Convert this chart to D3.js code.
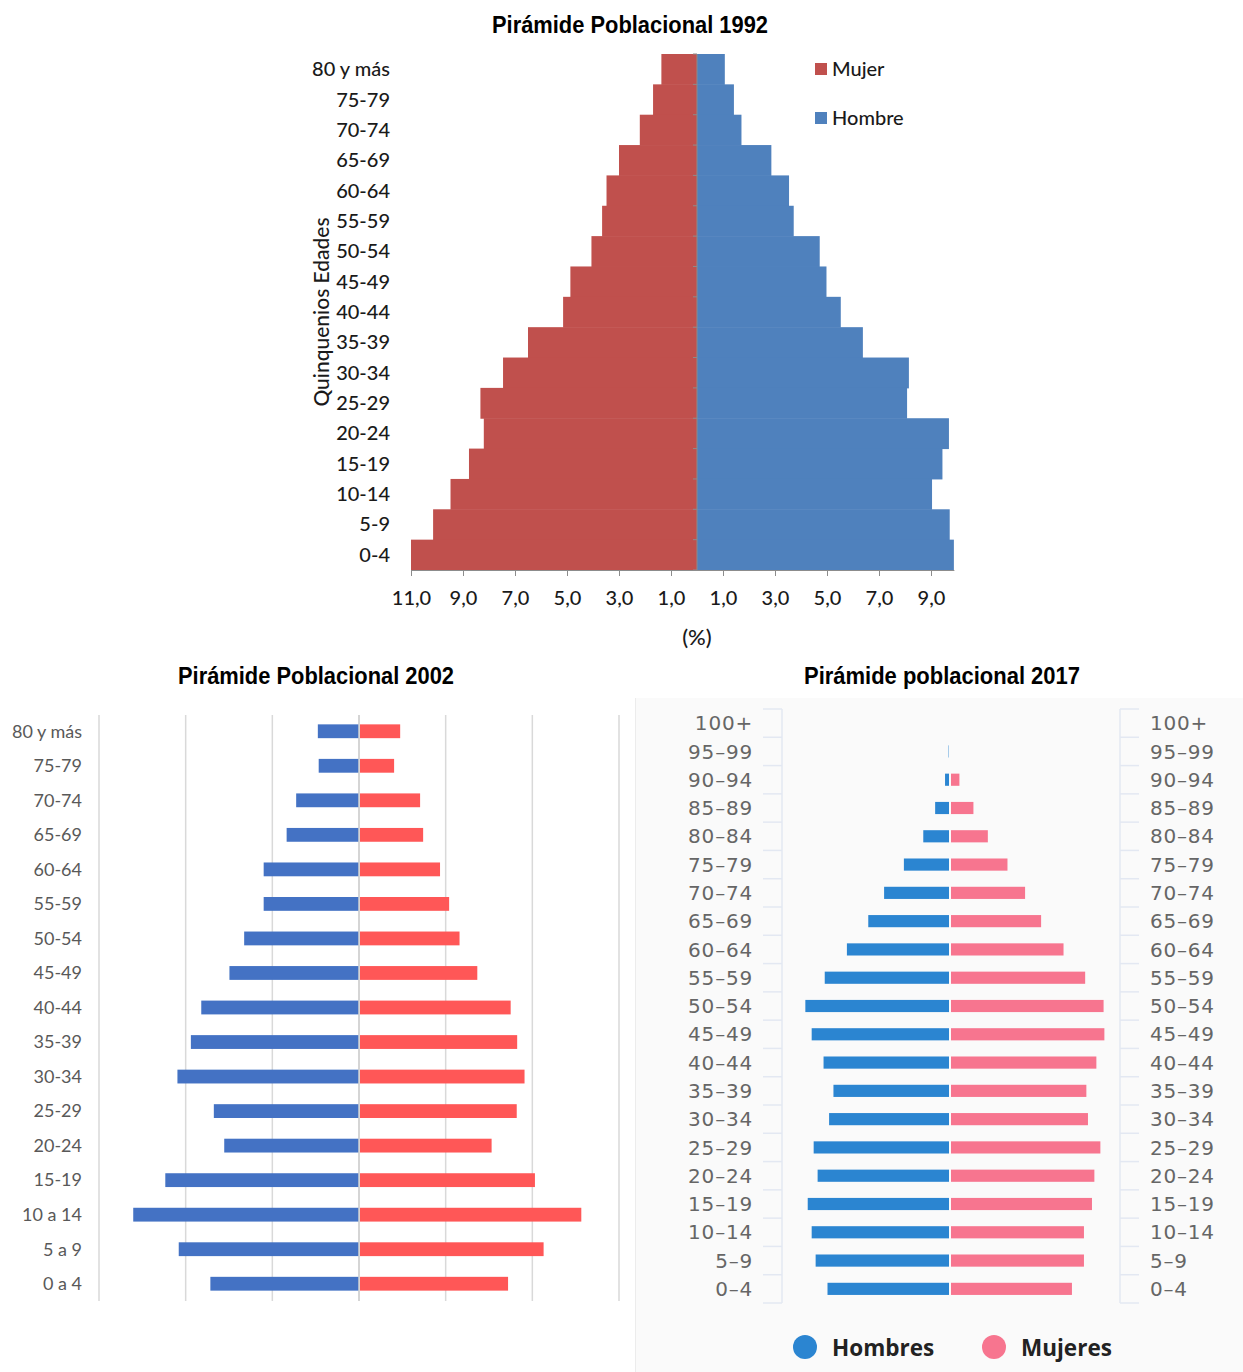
<!DOCTYPE html>
<html>
<head>
<meta charset="utf-8">
<script src="https://cdn.jsdelivr.net/npm/d3@7"></script>
<style>
  html, body { margin: 0; padding: 0; background: #fff; }
  svg { display: block; }
</style>
</head>
<body>
<svg id="chart" width="1243" height="1372"></svg>
<script>
// ---------- DATA ----------
const ages1992 = ["80 y más","75-79","70-74","65-69","60-64","55-59","50-54","45-49","40-44","35-39","30-34","25-29","20-24","15-19","10-14","5-9","0-4"];
const mujer1992 = [1.37,1.69,2.2,3.0,3.48,3.65,4.06,4.87,5.15,6.5,7.46,8.33,8.2,8.77,9.48,10.15,11.0];
const hombre1992 = [1.07,1.42,1.71,2.86,3.54,3.72,4.72,4.98,5.53,6.38,8.15,8.08,9.69,9.44,9.04,9.72,9.88];
const ticks1992 = [-11,-9,-7,-5,-3,-1,1,3,5,7,9];
const legend1992 = ["Mujer","Hombre"];

const ages2002 = ["80 y más","75-79","70-74","65-69","60-64","55-59","50-54","45-49","40-44","35-39","30-34","25-29","20-24","15-19","10 a 14","5 a 9","0 a 4"];
const hombres2002 = [0.95,0.93,1.45,1.67,2.2,2.2,2.65,2.99,3.64,3.88,4.19,3.35,3.11,4.47,5.21,4.16,3.43];
const mujeres2002 = [0.95,0.81,1.41,1.48,1.87,2.08,2.32,2.73,3.5,3.65,3.82,3.64,3.06,4.06,5.13,4.26,3.44];
const grid2002 = [-6,-4,-2,0,2,4,6];

const ages2017 = ["100+","95–99","90–94","85–89","80–84","75–79","70–74","65–69","60–64","55–59","50–54","45–49","40–44","35–39","30–34","25–29","20–24","15–19","10–14","5–9","0–4"];
const hombres2017 = [0,0.01,0.1,0.35,0.65,1.14,1.64,2.04,2.58,3.14,3.63,3.47,3.17,2.92,3.03,3.42,3.32,3.57,3.47,3.37,3.07];
const mujeres2017 = [0,0,0.21,0.56,0.92,1.41,1.85,2.25,2.81,3.35,3.81,3.83,3.63,3.38,3.42,3.73,3.58,3.52,3.32,3.32,3.02];
const legend2017 = ["Hombres","Mujeres"];

const titles = ["Pirámide Poblacional 1992","Pirámide Poblacional 2002","Pirámide poblacional 2017"];

// ---------- DRAW ----------
const svg = d3.select("#chart");
const titleFont = "'Liberation Sans Narrow','Arial Narrow','Liberation Sans',Arial,sans-serif";
const calFont = "Lato,'Open Sans',sans-serif";

function title(x, y, txt) {
  svg.append("text").attr("x", x).attr("y", y).attr("text-anchor", "middle")
    .attr("font-family", titleFont).attr("font-weight", "bold").attr("font-size", 24)
    .attr("textLength", 276).attr("lengthAdjust", "spacingAndGlyphs")
    .attr("fill", "#000").text(txt);
}

// ===== 1992 =====
{
  const g = svg.append("g");
  const x = d3.scaleLinear().domain([-11, 9.9]).range([411, 954.4]);
  const y = d3.scaleBand().domain(ages1992).range([54, 570]).padding(0);
  title(630, 33, titles[0]);

  g.selectAll(".m").data(ages1992).join("rect")
    .attr("x", (d,i) => x(-mujer1992[i])).attr("y", d => y(d))
    .attr("width", (d,i) => x(0) - x(-mujer1992[i])).attr("height", y.bandwidth() + 0.5)
    .attr("fill", "#C0504D");
  g.selectAll(".h").data(ages1992).join("rect")
    .attr("x", x(0)).attr("y", d => y(d))
    .attr("width", (d,i) => x(hombre1992[i]) - x(0)).attr("height", y.bandwidth() + 0.5)
    .attr("fill", "#4F81BD");

  // center axis with ticks at category boundaries
  g.append("line").attr("x1", x(0)).attr("x2", x(0)).attr("y1", 54).attr("y2", 570)
    .attr("stroke", "#8c8c8c").attr("stroke-width", 1);
  const bounds = ages1992.map(d => y(d)).concat([570]);
  g.selectAll(".ct").data(bounds).join("line")
    .attr("x1", x(0) - 4).attr("x2", x(0)).attr("y1", d => d).attr("y2", d => d)
    .attr("stroke", "#8c8c8c");

  // category labels
  g.selectAll(".lab").data(ages1992).join("text")
    .attr("x", 390).attr("y", d => y(d) + y.bandwidth()/2).attr("dy", "0.35em")
    .attr("text-anchor", "end").attr("font-family", calFont).attr("font-size", 20).attr("font-weight", 500)
    .attr("fill", "#1a1a1a").text(d => d);

  // x axis
  const ax = g.append("g").attr("transform", "translate(0,570)")
    .call(d3.axisBottom(x).tickValues(ticks1992).tickSize(6).tickPadding(15)
      .tickFormat(d => Math.abs(d).toFixed(1).replace(".", ",")));
  ax.select(".domain").attr("stroke", "#8c8c8c").attr("d", `M${x(-11)},0.5H${x(9.9)}`);
  ax.selectAll(".tick line").attr("stroke", "#8c8c8c");
  ax.selectAll(".tick text").attr("font-family", calFont).attr("font-size", 20).attr("font-weight", 500).attr("fill", "#1a1a1a");

  g.append("text").attr("x", x(0)).attr("y", 645).attr("text-anchor", "middle")
    .attr("font-family", calFont).attr("font-size", 22).attr("font-weight", 500).attr("fill", "#1a1a1a").text("(%)");

  g.append("text").attr("transform", "translate(329,312) rotate(-90)")
    .attr("text-anchor", "middle").attr("font-family", calFont).attr("font-size", 21).attr("font-weight", 500)
    .attr("fill", "#1a1a1a").text("Quinquenios Edades");

  // legend
  const lc = ["#C0504D", "#4F81BD"];
  legend1992.forEach((t, i) => {
    const ly = 69 + i * 49;
    g.append("rect").attr("x", 815).attr("y", ly - 6).attr("width", 12).attr("height", 12).attr("fill", lc[i]);
    g.append("text").attr("x", 832).attr("y", ly).attr("dy", "0.35em")
      .attr("font-family", calFont).attr("font-size", 20).attr("font-weight", 500).attr("fill", "#1a1a1a").text(t);
  });
}

// ===== 2002 =====
{
  const g = svg.append("g");
  title(316, 684, titles[1]);
  const x = d3.scaleLinear().domain([-6, 6]).range([99, 619]);
  const y = d3.scaleBand().domain(ages2002).range([714, 1301]).paddingInner(0.6).paddingOuter(0.3);

  g.selectAll(".gl").data(grid2002).join("line")
    .attr("x1", d => x(d)).attr("x2", d => x(d)).attr("y1", 715).attr("y2", 1301)
    .attr("stroke", "#d9d9d9").attr("stroke-width", 1.5);

  g.selectAll(".hb").data(ages2002).join("rect")
    .attr("x", (d,i) => x(-hombres2002[i])).attr("y", d => y(d))
    .attr("width", (d,i) => x(0) - x(-hombres2002[i])).attr("height", y.bandwidth())
    .attr("fill", "#4472C4");
  g.selectAll(".mb").data(ages2002).join("rect")
    .attr("x", x(0) + 1).attr("y", d => y(d))
    .attr("width", (d,i) => x(mujeres2002[i]) - x(0) - 1).attr("height", y.bandwidth())
    .attr("fill", "#FF5757");

  g.append("line").attr("x1", x(0)).attr("x2", x(0)).attr("y1", 715).attr("y2", 1301)
    .attr("stroke", "#d0d0d0").attr("stroke-width", 1.5);

  g.selectAll(".lab").data(ages2002).join("text")
    .attr("x", 82).attr("y", d => y(d) + y.bandwidth()/2).attr("dy", "0.35em")
    .attr("text-anchor", "end").attr("font-family", calFont).attr("font-size", 18)
    .attr("fill", "#595959").text(d => d);
}

// ===== 2017 =====
{
  const g = svg.append("g");
  g.append("rect").attr("x", 635).attr("y", 698).attr("width", 608).attr("height", 674).attr("fill", "#fafafa");
  g.append("line").attr("x1", 635.5).attr("x2", 635.5).attr("y1", 698).attr("y2", 1372).attr("stroke", "#ececec");
  title(942, 684, titles[2]);

  const xl = d3.scaleLinear().domain([0, 4.22]).range([949, 782]);
  const xr = d3.scaleLinear().domain([0, 4.22]).range([951, 1120]);
  const y = d3.scaleBand().domain(ages2017).range([709, 1303]).paddingInner(0.57).paddingOuter(0.285);
  const bounds = d3.range(ages2017.length + 1).map(i => 709 + i * (594 / ages2017.length));

  const axCol = "#e3e8f2";
  g.append("line").attr("x1", 782).attr("x2", 782).attr("y1", 709).attr("y2", 1303).attr("stroke", axCol).attr("stroke-width", 1.5);
  g.append("line").attr("x1", 1120).attr("x2", 1120).attr("y1", 709).attr("y2", 1303).attr("stroke", axCol).attr("stroke-width", 1.5);
  g.selectAll(".tl").data(bounds).join("line")
    .attr("x1", 763).attr("x2", 782).attr("y1", d => d).attr("y2", d => d).attr("stroke", axCol).attr("stroke-width", 1.5);
  g.selectAll(".tr").data(bounds).join("line")
    .attr("x1", 1120).attr("x2", 1139).attr("y1", d => d).attr("y2", d => d).attr("stroke", axCol).attr("stroke-width", 1.5);

  g.selectAll(".hb").data(ages2017).join("rect")
    .attr("x", (d,i) => xl(hombres2017[i])).attr("y", d => y(d))
    .attr("width", (d,i) => xl(0) - xl(hombres2017[i])).attr("height", y.bandwidth())
    .attr("fill", "#2B85D1");
  g.selectAll(".mb").data(ages2017).join("rect")
    .attr("x", xr(0)).attr("y", d => y(d))
    .attr("width", (d,i) => xr(mujeres2017[i]) - xr(0)).attr("height", y.bandwidth())
    .attr("fill", "#F7758F");

  const lf = "'DejaVu Sans',Verdana,sans-serif";
  g.selectAll(".ll").data(ages2017).join("text")
    .attr("x", 753).attr("y", d => y(d) + y.bandwidth()/2).attr("dy", "0.36em")
    .attr("text-anchor", "end").attr("font-family", lf).attr("font-size", 20).attr("letter-spacing", 0.8)
    .attr("fill", "#666").text(d => d);
  g.selectAll(".lr").data(ages2017).join("text")
    .attr("x", 1150).attr("y", d => y(d) + y.bandwidth()/2).attr("dy", "0.36em")
    .attr("text-anchor", "start").attr("font-family", lf).attr("font-size", 20).attr("letter-spacing", 0.8)
    .attr("fill", "#666").text(d => d);

  const lcol = ["#2B85D1", "#F7758F"];
  const lx = [805, 994];
  legend2017.forEach((t, i) => {
    g.append("circle").attr("cx", lx[i]).attr("cy", 1347).attr("r", 12).attr("fill", lcol[i]);
    g.append("text").attr("x", lx[i] + 27).attr("y", 1348).attr("dy", "0.35em")
      .attr("font-family", "'Open Sans',sans-serif").attr("font-weight", "bold").attr("font-size", 22.5)
      .attr("fill", "#222").text(t);
  });
}
</script>
</body>
</html>
